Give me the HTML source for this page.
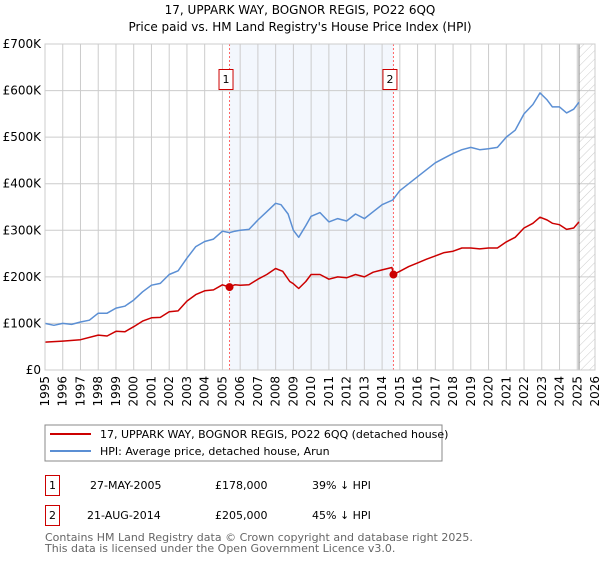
<!DOCTYPE html>
<html><head><meta charset="utf-8"><style>
body{margin:0;background:#fff;font-family:"Liberation Sans","DejaVu Sans",sans-serif;}
svg text{font-family:"DejaVu Sans","Liberation Sans",sans-serif;}
</style></head><body>
<svg id="c" width="600" height="560" xmlns="http://www.w3.org/2000/svg">
<defs><pattern id="hatch" width="6" height="6" patternUnits="userSpaceOnUse" patternTransform="rotate(45)"><line x1="0" y1="0" x2="0" y2="6" stroke="#ccc" stroke-width="1"/></pattern></defs>
<text x="300" y="14" text-anchor="middle" font-size="12">17, UPPARK WAY, BOGNOR REGIS, PO22 6QQ</text>
<text x="300" y="31" text-anchor="middle" font-size="12">Price paid vs. HM Land Registry's House Price Index (HPI)</text>
<g id="plot"></g>
<rect x="45" y="425" width="397" height="36" fill="#fff" stroke="#888"/>
<line x1="50" y1="434" x2="91" y2="434" stroke="#cc0000" stroke-width="2"/>
<text x="100" y="438" font-size="11">17, UPPARK WAY, BOGNOR REGIS, PO22 6QQ (detached house)</text>
<line x1="50" y1="451" x2="91" y2="451" stroke="#5b8fd4" stroke-width="2"/>
<text x="100" y="455" font-size="11">HPI: Average price, detached house, Arun</text>
<g font-size="11">
<rect x="45.5" y="475.5" width="14" height="20" fill="none" stroke="#cc0000"/>
<text x="52.5" y="489" text-anchor="middle">1</text>
<text x="90" y="489">27-MAY-2005</text><text x="215" y="489">£178,000</text><text x="312" y="489">39% ↓ HPI</text></g>
<g font-size="11">
<rect x="45.5" y="505.5" width="14" height="20" fill="none" stroke="#cc0000"/>
<text x="52.5" y="519" text-anchor="middle">2</text>
<text x="87" y="519">21-AUG-2014</text><text x="215" y="519">£205,000</text><text x="312" y="519">45% ↓ HPI</text></g>
<text x="45" y="541" font-size="11" fill="#666">Contains HM Land Registry data © Crown copyright and database right 2025.</text>
<text x="45" y="552" font-size="11" fill="#666">This data is licensed under the Open Government Licence v3.0.</text>
</svg>
<script>
const hpiYears=[1995,1995.5,1996,1996.5,1997,1997.5,1998,1998.5,1999,1999.5,2000,2000.5,2001,2001.5,2002,2002.5,2003,2003.5,2004,2004.5,2005,2005.4,2005.7,2006,2006.5,2007,2007.5,2008,2008.3,2008.7,2009,2009.3,2009.7,2010,2010.5,2011,2011.5,2012,2012.5,2013,2013.5,2014,2014.6,2015,2015.5,2016,2016.5,2017,2017.5,2018,2018.5,2019,2019.5,2020,2020.5,2021,2021.5,2022,2022.5,2022.9,2023.3,2023.6,2024,2024.4,2024.8,2025.1];
const hpiValues=[100,96,100,98,103,107,122,122,133,137,150,168,182,186,205,213,240,265,276,281,298,295,298,300,302,322,340,358,355,335,300,285,310,330,338,318,325,320,335,325,340,355,365,385,400,415,430,445,455,465,473,478,473,475,478,500,515,550,570,595,580,565,565,552,560,575];
const priceYears=[1995,1996,1997,1998,1998.5,1999,1999.5,2000,2000.5,2001,2001.5,2002,2002.5,2003,2003.5,2004,2004.5,2005,2005.4,2005.7,2006,2006.5,2007,2007.5,2008,2008.4,2008.8,2009,2009.3,2009.7,2010,2010.5,2011,2011.5,2012,2012.5,2013,2013.5,2014,2014.55,2014.64,2015,2015.5,2016,2016.5,2017,2017.5,2018,2018.5,2019,2019.5,2020,2020.5,2021,2021.5,2022,2022.5,2022.9,2023.3,2023.6,2024,2024.4,2024.8,2025.1];
const priceValues=[60,62,65,75,73,83,82,93,105,112,113,125,127,148,162,170,172,183,178,183,182,183,195,205,218,212,190,185,175,190,205,205,195,200,198,205,200,210,215,220,205,212,222,230,238,245,252,255,262,262,260,262,262,275,285,305,315,328,322,315,312,302,305,318];
const saleYears=[2005.4,2014.64];
const saleValues=[178,205];
const saleLabels=["1","2"];
const yTicks=[0,100,200,300,400,500,600,700];
const yTickLabels=["£0","£100K","£200K","£300K","£400K","£500K","£600K","£700K"];
const xTicks=[1995,1996,1997,1998,1999,2000,2001,2002,2003,2004,2005,2006,2007,2008,2009,2010,2011,2012,2013,2014,2015,2016,2017,2018,2019,2020,2021,2022,2023,2024,2025,2026];
const dataEnd=2025.1;

const X0=45,X1=595,Y0=370,Y1=44;
const x=v=>X0+(v-1995)/(2026-1995)*(X1-X0);
const y=v=>Y0-v/700*(Y0-Y1);
const NS="http://www.w3.org/2000/svg";
const g=document.getElementById('plot');
function mk(t,a){const e=document.createElementNS(NS,t);for(const k in a)e.setAttribute(k,a[k]);g.appendChild(e);return e;}
let e;
e=mk('rect',{x:x(saleYears[0]),y:Y1,width:x(saleYears[1])-x(saleYears[0]),height:Y0-Y1,fill:'#eef3fc',opacity:0.7});


e=mk('rect',{x:x(dataEnd),y:Y1,width:X1-x(dataEnd),height:Y0-Y1,fill:'url(#hatch)'});


yTicks.forEach((t,i)=>{
 e=mk('line',{x1:X0,x2:X1,y1:y(t),y2:y(t),stroke:'#ccc'});
 
 
 e=mk('text',{x:X0-4,y:y(t)+4,'text-anchor':'end','font-size':12});
 e.textContent=yTickLabels[i];
 
 
});
xTicks.forEach(t=>{
 e=mk('line',{x1:x(t),x2:x(t),y1:Y1,y2:Y0,stroke:'#ccc'});
 
 
 e=mk('text',{x:0,y:0,'text-anchor':'end','font-size':12,transform:`translate(${x(t)+4},${Y0+6}) rotate(-90)`});
 e.textContent=t;
 
 
});
e=mk('line',{x1:x(dataEnd),x2:x(dataEnd),y1:Y1,y2:Y0,stroke:'#888'});


saleYears.forEach((s,i)=>{
 e=mk('line',{x1:x(s),x2:x(s),y1:Y1,y2:Y0,stroke:'#ff6666','stroke-dasharray':'2,2'});
 
 
 e=mk('rect',{x:x(s)-10.5,y:69.5,width:14,height:20,fill:'#fff',stroke:'#cc0000'});
 
 
 e=mk('text',{x:x(s)-3.5,y:83,'text-anchor':'middle','font-size':11});
 e.textContent=saleLabels[i];
 
 
});
function line(xs,vs,c,name){
 const d=xs.map((t,i)=>(i?'L':'M')+x(t).toFixed(1)+','+y(vs[i]).toFixed(1)).join('');
 e=mk('path',{d:d,fill:'none',stroke:c,'stroke-width':1.5,'stroke-linejoin':'round'});
 
 
}
line(hpiYears,hpiValues,'#5b8fd4','hpi-line');
line(priceYears,priceValues,'#cc0000','price-paid-line');
saleYears.forEach((s,i)=>{
 e=mk('circle',{cx:x(s),cy:y(saleValues[i]),r:4,fill:'#cc0000'});
 
 
});
e=mk('rect',{x:X0,y:Y1,width:X1-X0,height:Y0-Y1,fill:'none',stroke:'#ccc'});


</script>
</body></html>
